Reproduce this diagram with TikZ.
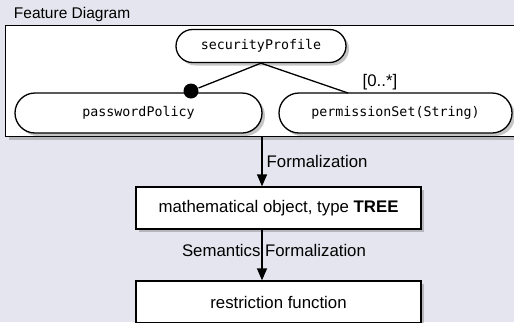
\documentclass[tikz,border=0pt]{standalone}
\usepackage{fontspec}
\setmainfont{Liberation Sans}
\setmonofont{DejaVu Sans Mono}
\usetikzlibrary{shapes.misc,shadows,arrows.meta}
\definecolor{bgcol}{RGB}{228,229,238}

\begin{document}
\begin{tikzpicture}[x=1pt,y=-1pt,line width=1.3pt,font=\fontsize{16.8}{19}\selectfont]
    \tikzstyle{soft shadow}=[drop shadow={shadow xshift=3pt,shadow yshift=-3pt,opacity=.45}]
    \tikzstyle{feature}=[rounded rectangle,draw,fill=white,inner sep=0pt,soft shadow,font=\ttfamily\fontsize{13.3}{15}\selectfont]
    \tikzstyle{stage}=[rectangle,draw,fill=white,inner sep=0pt,minimum width=285pt,minimum height=42pt,soft shadow]
    \tikzstyle{mandatory}=[circle,fill=black,minimum size=15pt,inner sep=0pt]
    \tikzstyle{flow}=[-{Triangle[width=10pt,length=12pt]}]

    % Page and background
    \useasboundingbox (0,0) rectangle (514,322);
    \fill[bgcol] (0,0) rectangle (514,322);

    % Feature diagram frame
    \node[anchor=west,font=\fontsize{15.5}{18}\selectfont] (title) at (10,14) {Feature Diagram};
    \node[draw,fill=white,anchor=north west,minimum width=520pt,minimum height=111.5pt,soft shadow] (fd) at (5,24.5) {};

    % Draw the features
    \node[feature,minimum width=170pt,minimum height=33pt] (sp) at (261,46) {securityProfile};
    \node[feature,minimum width=247pt,minimum height=40pt] (pp) at (138.5,113) {passwordPolicy};
    \node[feature,minimum width=233pt,minimum height=40pt] (ps) at (395.5,113) {permissionSet(String)};

    % Connect the root with its children
    \node[mandatory] (pp-dot) at (191,91) {};
    \coordinate (ps-top) at (348,93);
    \draw (sp.south) -- (pp-dot);
    \draw (sp.south) -- (ps-top);
    \node (card) at (380,82) {[0..*]};

    % Formalization steps
    \node[stage] (tree) at (278.5,208) {mathematical object, type \textbf{TREE}};
    \node[stage] (restr) at (278.5,302) {restriction function};
    \coordinate (f1) at (262,136);
    \draw[flow] (f1) -- (f1 |- tree.north);
    \draw[flow] (tree.south -| f1) -- (restr.north -| f1);

    % Annotate the arrows
    \node[anchor=west,inner sep=0pt] (l1) at (266,161) {Formalization};
    \node[inner sep=0pt] (l2) at (274,250) {Semantics Formalization};
\end{tikzpicture}
\end{document}
